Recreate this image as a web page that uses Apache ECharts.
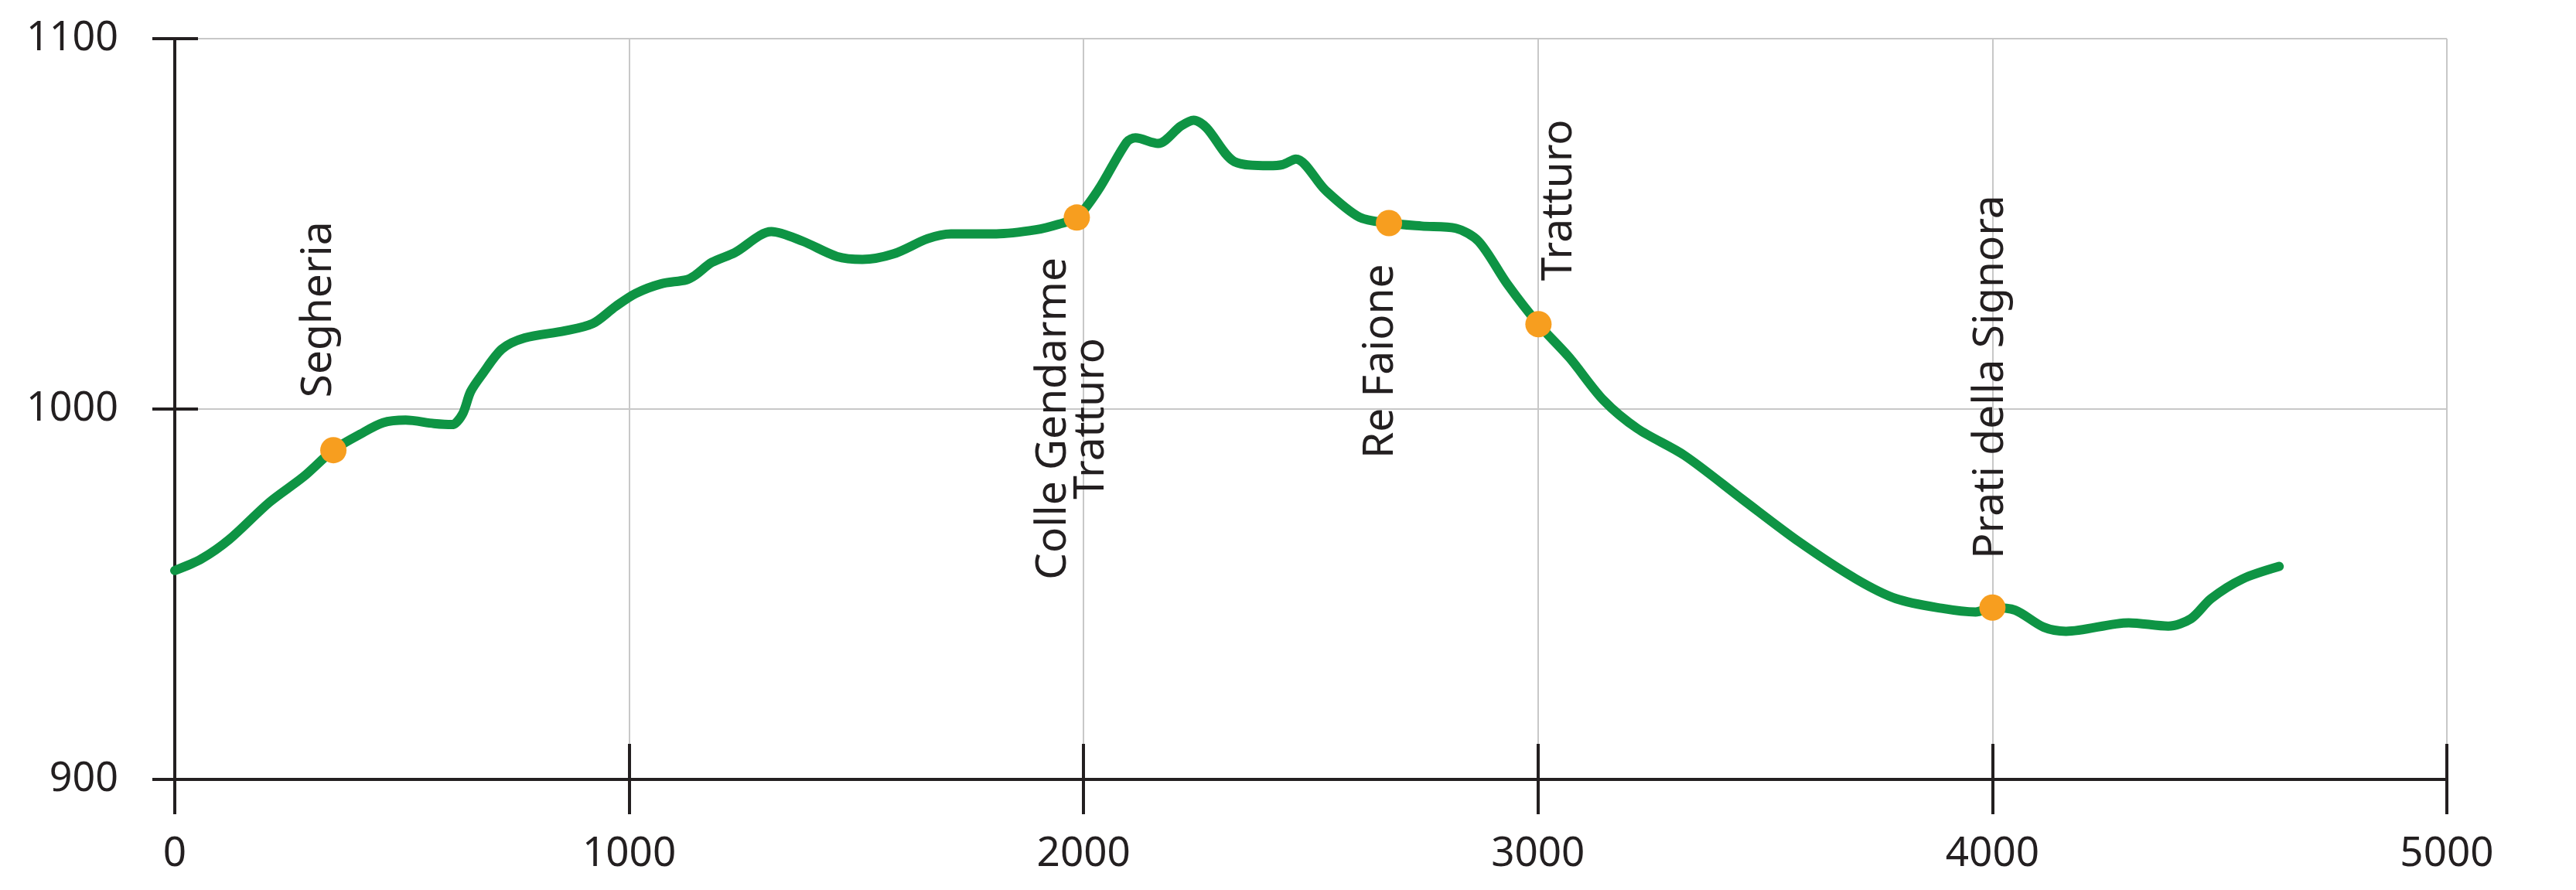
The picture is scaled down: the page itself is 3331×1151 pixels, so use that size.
<!DOCTYPE html>
<html>
<head>
<meta charset="utf-8">
<script src="https://cdn.jsdelivr.net/npm/echarts@6/dist/echarts.min.js"></script>
<style>
html,body{margin:0;padding:0;background:#fff;}
#chart{width:3331px;height:1151px;}
</style>
</head>
<body>
<div id="chart"></div>
<script>
// Elevation profile (distance in m, elevation in m)
const distances = [0,58,120,208,283,349,408,458,508,570,610,633,651,676,720,770,858,920,970,1014,1070,1126,1145,1182,1232,1313,1382,1457,1513,1582,1657,1708,1808,1895,1945,1985,2032,2095,2114,2164,2214,2242,2270,2332,2407,2438,2467,2532,2607,2672,2744,2819,2869,2932,3001,3069,3144,3219,3322,3450,3575,3700,3788,3888,3963,4000,4050,4113,4162,4300,4387,4437,4481,4550,4631];
const elevations = [956.4,959.5,964.8,974.8,981.7,988.9,993.2,996.3,997.0,996.1,995.8,998.6,1004.7,1009.3,1016.2,1019.2,1021.1,1023.1,1027.7,1031.2,1033.8,1034.9,1036.1,1039.6,1042.2,1047.9,1045.3,1041.2,1040.4,1041.9,1046.0,1047.3,1047.3,1048.4,1049.9,1051.7,1059.1,1072.1,1073.2,1071.7,1076.4,1078.0,1076.0,1066.8,1065.7,1066.0,1067.5,1059.1,1051.8,1050.2,1049.4,1048.8,1045.3,1033.8,1022.9,1013.9,1002.4,994.7,987.5,975.6,964.1,954.1,948.8,946.2,945.2,946.4,945.7,941.1,940.0,942.3,941.4,943.4,948.8,954.1,957.5];

// Waypoints
const waypointNames = ["Segheria", "Colle Gendarme\nTratturo", "Re Faione", "Tratturo", "Prati della Signora"];
const waypointX = [349, 1985, 2672, 3001, 4000];
const waypointY = [988.9, 1051.7, 1050.2, 1022.9, 946.4];

// Tick labels
const xTicks = [0, 1000, 2000, 3000, 4000, 5000];
const yTicks = [900, 1000, 1100];

// Label layout (style only): [dx, dy, align]
const labelLayout = [
  [-19, -68, 'left'],
  [-6, 260, 'center'],
  [-11, 53, 'right'],
  [27, -56, 'left'],
  [-2, -63, 'left']
];

const INK = '#231f20';
const SYM = 34;
const font = '"Noto Sans", "DejaVu Sans", sans-serif';

const profile = distances.map((d, i) => [d, elevations[i]]);
const points = waypointX.map((x, i) => {
  const L = labelLayout[i];
  return {
    value: [x, waypointY[i]],
    name: waypointNames[i],
    label: {
      show: true,
      formatter: waypointNames[i],
      rotate: 90,
      position: [SYM / 2 + L[0], SYM / 2 + L[1]],
      align: L[2],
      verticalAlign: 'middle',
      fontSize: 55,
      lineHeight: 49,
      fontFamily: font,
      color: INK
    }
  };
});

const chart = echarts.init(document.getElementById('chart'), null, {renderer: 'canvas'});
const baseX = {min: xTicks[0], max: xTicks[xTicks.length - 1], interval: xTicks[1] - xTicks[0], type: 'value'};
const baseY = {min: yTicks[0], max: yTicks[yTicks.length - 1], interval: yTicks[1] - yTicks[0], type: 'value'};
const plain = v => String(v);
const gridBox = {left: 226, right: 167, top: 50, bottom: 143, containLabel: false};

chart.setOption({
  animation: false,
  backgroundColor: '#ffffff',
  grid: [Object.assign({}, gridBox), Object.assign({}, gridBox)],
  xAxis: [
    Object.assign({}, baseX, {
      gridIndex: 0,
      position: 'bottom',
      axisLine: {show: true, lineStyle: {color: INK, width: 4}},
      axisTick: {show: true, inside: false, length: 45, lineStyle: {color: INK, width: 4}},
      axisLabel: {show: true, margin: 70, fontSize: 53, fontFamily: font, color: INK, formatter: plain},
      splitLine: {show: true, lineStyle: {color: '#c8c8c8', width: 2}}
    }),
    Object.assign({}, baseX, {
      gridIndex: 1,
      position: 'bottom',
      axisLine: {show: false},
      axisTick: {show: true, inside: true, length: 46, lineStyle: {color: INK, width: 4}},
      axisLabel: {show: false},
      splitLine: {show: false}
    })
  ],
  yAxis: [
    Object.assign({}, baseY, {
      gridIndex: 0,
      position: 'left',
      axisLine: {show: true, lineStyle: {color: INK, width: 4}},
      axisTick: {show: true, inside: false, length: 29, lineStyle: {color: INK, width: 4}},
      axisLabel: {show: true, margin: 73, fontSize: 52, fontFamily: font, color: INK, formatter: plain},
      splitLine: {show: true, lineStyle: {color: '#c8c8c8', width: 2}}
    }),
    Object.assign({}, baseY, {
      gridIndex: 1,
      position: 'left',
      axisLine: {show: false},
      axisTick: {show: true, inside: true, length: 30, lineStyle: {color: INK, width: 4}},
      axisLabel: {show: false},
      splitLine: {show: false}
    })
  ],
  series: [
    {
      type: 'line',
      xAxisIndex: 0,
      yAxisIndex: 0,
      data: profile,
      smooth: 0.3,
      showSymbol: false,
      lineStyle: {color: '#0e9444', width: 12, cap: 'round', join: 'round'},
      z: 2
    },
    {
      type: 'scatter',
      xAxisIndex: 0,
      yAxisIndex: 0,
      data: points,
      symbol: 'circle',
      symbolSize: SYM,
      itemStyle: {color: '#f79e1f', opacity: 1},
      z: 3
    }
  ]
});
</script>
</body>
</html>
